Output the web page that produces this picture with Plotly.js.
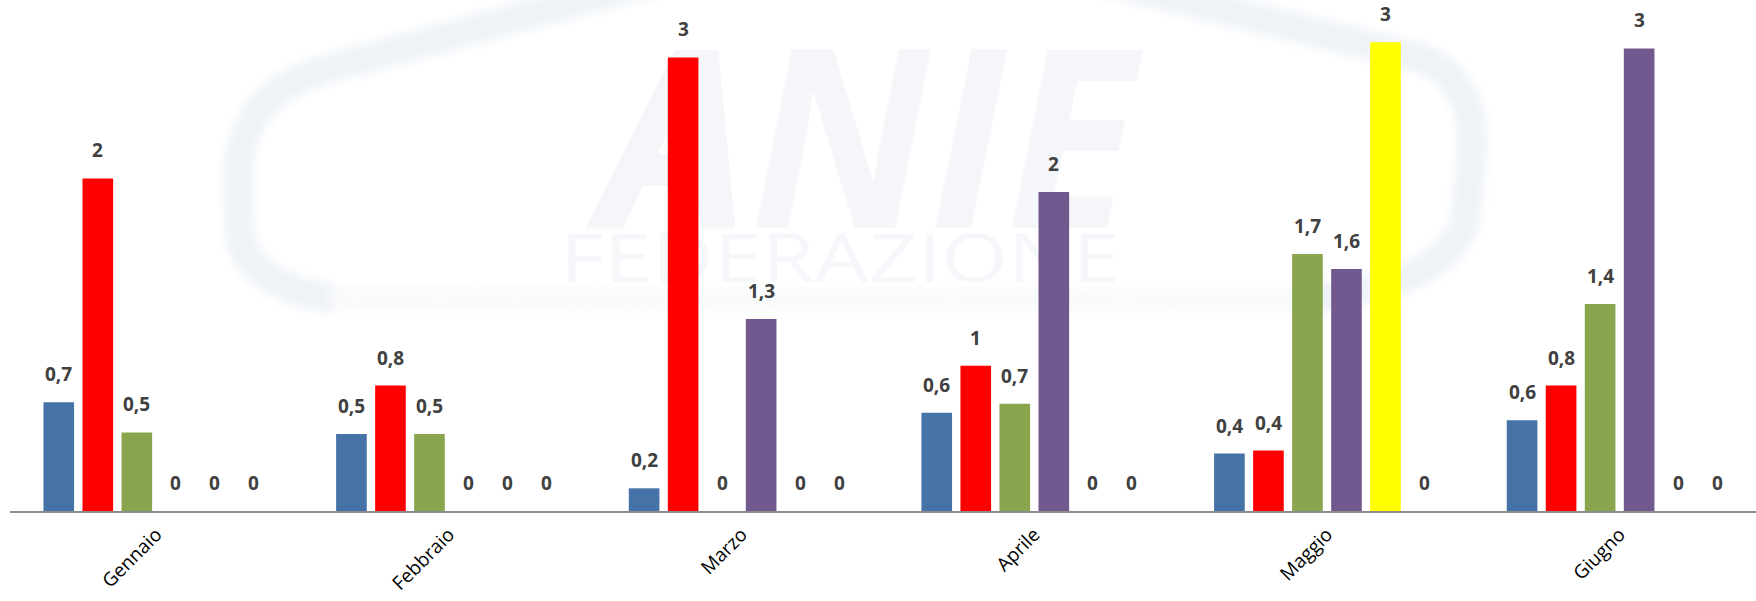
<!DOCTYPE html>
<html>
<head>
<meta charset="utf-8">
<script src="https://cdn.plot.ly/plotly-3.0.1.min.js"></script>
<style>html,body{margin:0;padding:0;background:#fff;overflow:hidden}</style>
</head>
<body>
<div id="chart" style="width:1756px;height:601px"></div>
<script>
// Categories (months)
const months = ["Gennaio", "Febbraio", "Marzo", "Aprile", "Maggio", "Giugno"];

// Series values
const serie1 = [0.72, 0.51, 0.15, 0.65, 0.38, 0.60];
const serie2 = [2.20, 0.83, 3.00, 0.96, 0.40, 0.83];
const serie3 = [0.52, 0.51, 0, 0.71, 1.70, 1.37];
const serie4 = [0, 0, 1.27, 2.11, 1.60, 3.06];
const serie5 = [0, 0, 0, 0, 3.10, 0];
const serie6 = [0, 0, 0, 0, 0, 0];

// Data labels as printed on the chart
const label1 = ["0,7", "0,5", "0,2", "0,6", "0,4", "0,6"];
const label2 = ["2", "0,8", "3", "1", "0,4", "0,8"];
const label3 = ["0,5", "0,5", "0", "0,7", "1,7", "1,4"];
const label4 = ["0", "0", "1,3", "2", "1,6", "3"];
const label5 = ["0", "0", "0", "0", "3", "0"];
const label6 = ["0", "0", "0", "0", "0", "0"];

const seriesValues = [serie1, serie2, serie3, serie4, serie5, serie6];
const seriesLabels = [label1, label2, label3, label4, label5, label6];
const colors = ["#4572A7", "#FF0000", "#89A54E", "#71588F", "#FFFF00", "#F79646"];

const traces = seriesValues.map((vals, i) => ({
  type: "bar",
  x: months,
  y: vals,
  marker: {color: colors[i]},
  hoverinfo: "skip",
  showlegend: false
}));

// Data labels as annotations anchored to each bar through the axes
const slotPx = 39.02;
const annotations = [];
seriesValues.forEach((vals, i) => {
  vals.forEach((v, j) => {
    annotations.push({
      x: months[j], y: v, xref: "x", yref: "y",
      text: seriesLabels[i][j],
      showarrow: false,
      xanchor: "center", yanchor: "bottom",
      xshift: (i - 2.5) * slotPx,
      yshift: 13,
      font: {family: "Open Sans, sans-serif", size: 19, color: "#404040", weight: 700}
    });
  });
});

// Faint background logo (watermark), drawn below the bars
const logoSvg =
  '<svg xmlns="http://www.w3.org/2000/svg" width="1756" height="601" viewBox="0 0 1756 601" preserveAspectRatio="none">' +
  '<defs><filter id="b" x="-10%" y="-10%" width="120%" height="120%"><feGaussianBlur stdDeviation="4"/></filter></defs>' +
  '<g filter="url(#b)">' +
  '<g fill="none" stroke="#eff3f8" stroke-width="30" stroke-linecap="round" stroke-linejoin="round">' +
  '<path d="M 660 -20 L 330 68 Q 240 92 238 175 L 240 235 Q 248 285 330 298"/>' +
  '<path d="M 1100 -20 L 1420 58 Q 1475 78 1472 150 L 1466 215 Q 1455 285 1300 300"/>' +
  '</g>' +
  '<path d="M 330 298 L 1300 300" stroke="#f9fafc" stroke-width="22" fill="none"/>' +
  '</g>' +
  '<text x="600" y="228" font-family="Open Sans, sans-serif" font-weight="700" font-style="italic" font-size="250" fill="#f4f6f9" textLength="535" lengthAdjust="spacingAndGlyphs">ANIE</text>' +
  '<text x="560" y="282" font-family="Open Sans, sans-serif" font-weight="400" font-size="68" fill="#f6f7fa" textLength="560" lengthAdjust="spacingAndGlyphs">FEDERAZIONE</text>' +
  '</svg>';
const logoUri = "data:image/svg+xml;charset=utf-8," + encodeURIComponent(logoSvg);

const layout = {
  width: 1756,
  height: 601,
  margin: {l: 10, r: 0, t: 0, b: 90},
  paper_bgcolor: "#ffffff",
  plot_bgcolor: "rgba(0,0,0,0)",
  barmode: "group",
  bargap: 0.2,
  bargroupgap: 0.215,
  xaxis: {
    type: "category",
    range: [-0.5, 5.466],
    showgrid: false,
    zeroline: false,
    showline: true,
    linecolor: "#8c8c8c",
    linewidth: 2,
    ticks: "",
    tickangle: -45,
    ticklabelstandoff: 3,
    tickfont: {family: "Open Sans, sans-serif", size: 19, color: "#000000"},
    fixedrange: true
  },
  yaxis: {
    range: [0, 3.38],
    showgrid: false,
    zeroline: false,
    showline: false,
    showticklabels: false,
    ticks: "",
    fixedrange: true
  },
  images: [{
    source: logoUri,
    xref: "paper", yref: "paper",
    x: -10 / 1746, y: 1,
    sizex: 1756 / 1746, sizey: 601 / 511,
    xanchor: "left", yanchor: "top",
    sizing: "stretch",
    layer: "below"
  }],
  annotations: annotations
};

Plotly.newPlot("chart", traces, layout, {displayModeBar: false, staticPlot: true});
</script>
</body>
</html>
